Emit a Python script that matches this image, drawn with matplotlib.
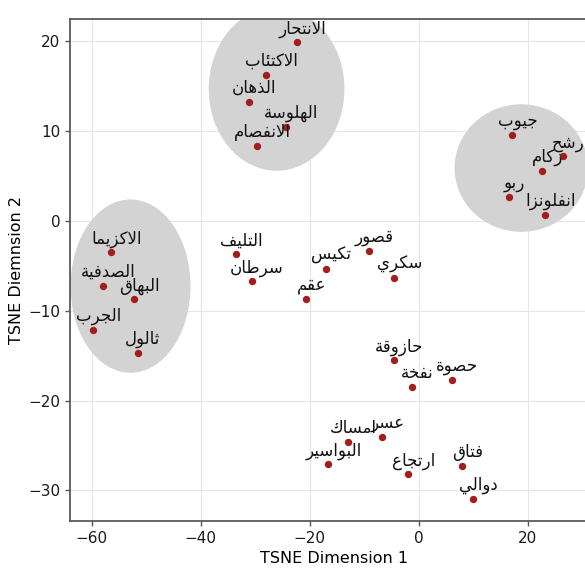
import matplotlib
matplotlib.use("Agg")
import matplotlib.pyplot as plt
from matplotlib.patches import Ellipse

# words (logical order) and their t-SNE coordinates
words = ["الانتحار", "الاكتئاب", "الذهان", "الهلوسة", "الانفصام",
         "جيوب", "رشح", "زكام", "ربو", "انفلونزا",
         "الاكزيما", "الصدفية", "البهاق", "الجرب", "ثالول",
         "التليف", "سرطان", "تكيس", "قصور", "سكري", "عقم",
         "حازوقة", "حصوة", "نفخة", "عسر", "امساك", "البواسير",
         "ارتجاع", "فتاق", "دوالي"]
dim1 = [-22.4, -28.1, -31.2, -24.4, -29.7,
        17.1, 26.4, 22.6, 16.6, 23.2,
        -56.4, -57.9, -52.2, -59.7, -51.6,
        -33.6, -30.7, -17.1, -9.2, -4.6, -20.7,
        -4.6, 6.0, -1.2, -6.8, -13.0, -16.7,
        -2.0, 7.9, 10.0]
dim2 = [19.9, 16.3, 13.25, 10.5, 8.4,
        9.6, 7.2, 5.6, 2.7, 0.7,
        -3.5, -7.2, -8.7, -12.1, -14.7,
        -3.7, -6.7, -5.3, -3.3, -6.3, -8.65,
        -15.5, -17.7, -18.45, -24.0, -24.65, -27.1,
        -28.2, -27.25, -30.9]

# highlighted clusters: center x, center y, width, height
cluster_x = [-26.1, 18.8, -52.9]
cluster_y = [14.7, 5.9, -7.25]
cluster_w = [24.9, 24.5, 22.0]
cluster_h = [18.2, 14.2, 19.3]

# --- minimal Arabic shaping (presentation forms) so matplotlib draws joined RTL text
DUAL = {"ب": 0xFE8F, "ت": 0xFE95, "ث": 0xFE99, "ج": 0xFE9D, "ح": 0xFEA1, "خ": 0xFEA5,
        "س": 0xFEB1, "ش": 0xFEB5, "ص": 0xFEB9, "ض": 0xFEBD, "ط": 0xFEC1, "ظ": 0xFEC5,
        "ع": 0xFEC9, "غ": 0xFECD, "ف": 0xFED1, "ق": 0xFED5, "ك": 0xFED9, "ل": 0xFEDD,
        "م": 0xFEE1, "ن": 0xFEE5, "ه": 0xFEE9, "ي": 0xFEF1, "ئ": 0xFE89}
RIGHT = {"ا": 0xFE8D, "ة": 0xFE93, "د": 0xFEA9, "ذ": 0xFEAB, "ر": 0xFEAD, "ز": 0xFEAF,
         "و": 0xFEED, "ى": 0xFEEF}


def shape(word):
    out = []
    i = 0
    n = len(word)
    while i < n:
        ch = word[i]
        prev_joins = i > 0 and word[i - 1] in DUAL and not (
            i > 1 and word[i - 2] == "ل" and word[i - 1] == "ا")
        if out and out[-1] in ("\uFEFB", "\uFEFC"):
            prev_joins = False
        if ch == "ل" and i + 1 < n and word[i + 1] == "ا":
            out.append("\uFEFC" if prev_joins else "\uFEFB")
            i += 2
            continue
        next_joins = i + 1 < n and (word[i + 1] in DUAL or word[i + 1] in RIGHT)
        if ch in DUAL:
            base = DUAL[ch]
            if prev_joins and next_joins:
                code = base + 3
            elif prev_joins:
                code = base + 1
            elif next_joins:
                code = base + 2
            else:
                code = base
        elif ch in RIGHT:
            code = RIGHT[ch] + (1 if prev_joins else 0)
        else:
            code = ord(ch)
        out.append(chr(code))
        i += 1
    return "".join(out[::-1])


fig = plt.figure(figsize=(5.85, 5.71), dpi=100, facecolor="white")
ax = fig.add_axes([0.1197, 0.0876, 0.9037, 0.8792])

for cx, cy, w, h in zip(cluster_x, cluster_y, cluster_w, cluster_h):
    ax.add_patch(Ellipse((cx, cy), w, h, facecolor="#d3d3d3", edgecolor="none", zorder=1))

ax.scatter(dim1, dim2, s=28, color="#a51c1c", zorder=3, linewidths=0)
for x, y, w in zip(dim1, dim2, words):
    ax.text(x + 1, y + 1, shape(w), ha="center", va="baseline", fontsize=12,
            color="#111111", zorder=4)

ax.set_xlim(-64, 33)
ax.set_ylim(-33.4, 22.5)
ax.set_xticks([-60, -40, -20, 0, 20])
ax.set_yticks([-30, -20, -10, 0, 10, 20])
ax.grid(True, color="#e6e6e6", linewidth=0.8, zorder=0)
ax.set_axisbelow(True)
for side in ax.spines.values():
    side.set_color("#5a5a5a")
    side.set_linewidth(1.3)
ax.tick_params(colors="#1a1a1a", labelsize=11, length=3.5, width=1, color="#5a5a5a")
ax.set_xlabel("TSNE Dimension 1", fontsize=11.5, labelpad=4)
ax.set_ylabel("TSNE Diemnsion 2", fontsize=11.5, labelpad=3)

fig.savefig("out.png", dpi=100)
